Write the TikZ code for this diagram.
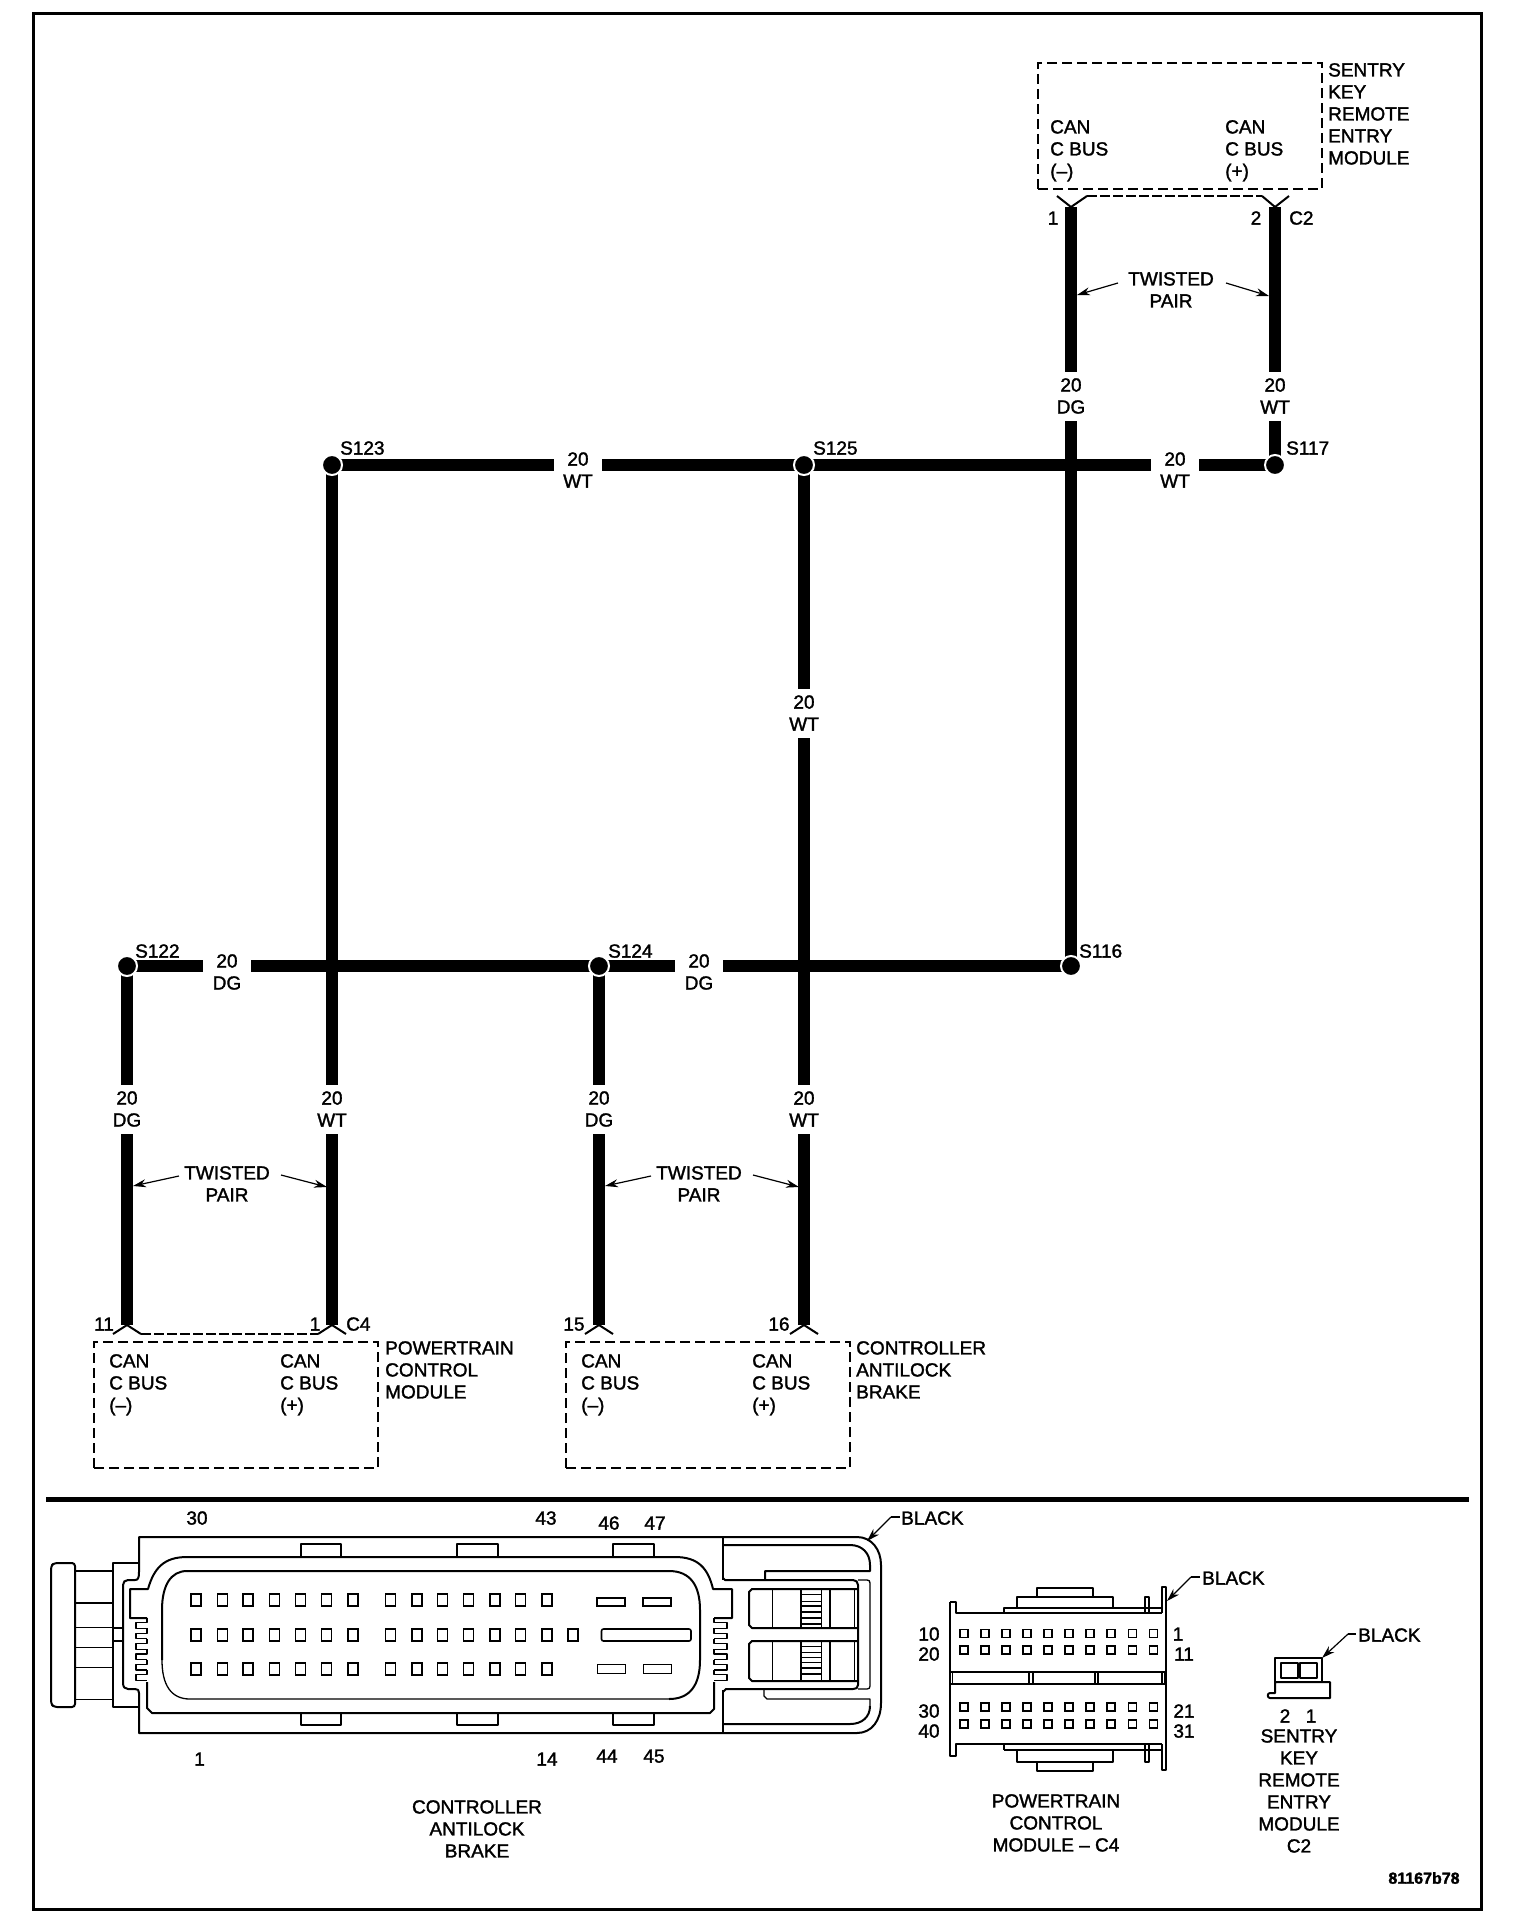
\documentclass[tikz,border=0pt]{standalone}
\usepackage{fontspec}
\setmainfont[FakeBold=1.6]{Liberation Sans}
\usetikzlibrary{arrows.meta,backgrounds}
\tikzset{
  x=1pt,y=-1pt,
  wire/.style={line width=12pt,line cap=butt},
  splice/.style={circle,fill=black,draw=white,line width=2pt,minimum size=20pt,inner sep=0pt},
  txtbase/.style={inner sep=0pt,font=\fontsize{19}{22}\selectfont,execute at begin node=\strut},
  tl/.style={txtbase,anchor=north west,align=left,yshift=8pt},
  tc/.style={txtbase,anchor=north,align=center,yshift=8pt},
  wbase/.style={inner sep=0pt,font=\fontsize{19}{22}\selectfont,fill=white,align=center,minimum height=49pt,execute at begin node=\rule{0pt}{19.6pt}},
  wlabel/.style={wbase,minimum width=48pt},
  vlabel/.style={wbase,minimum width=40pt},
  modbox/.style={draw,line width=2.4pt,dash pattern=on 10pt off 5pt,minimum width=284pt,minimum height=126pt,inner sep=0pt},
  vee/.style={line width=2pt},
  pointer/.style={line width=1.2pt,-{Stealth[length=13pt,width=8pt]}},
  frameline/.style={line width=3pt},
  cbig/.style={line width=2pt,line join=round},
  cmid/.style={line width=1.3pt,line join=round},
  cthin/.style={line width=0.9pt},
  pinbox/.style={line width=1.6pt},
}
\begin{document}
\begin{tikzpicture}
\useasboundingbox (0,0) rectangle (1536,1926);
% splices
\node[splice] (S123) at (332,465) {};
\node[splice] (S125) at (804,465) {};
\node[splice] (S117) at (1275,465) {};
\node[splice] (S122) at (127,966) {};
\node[splice] (S124) at (599,966) {};
\node[splice] (S116) at (1071,966) {};
% connector points
\coordinate (skL) at (1071,207); \coordinate (skR) at (1275,207);
\coordinate (pcL) at (127,1325); \coordinate (pcR) at (332,1325);
\coordinate (abL) at (599,1325); \coordinate (abR) at (804,1325);
\begin{scope}[on background layer]
  \fill[white] (0,0) rectangle (1536,1926);
  \draw[wire] (skL) -- (S116.center);
  \draw[wire] (skR) -- (S117.center);
  \draw[wire] (S123.center) -- (S117.center);
  \draw[wire] (S122.center) -- (S116.center);
  \draw[wire] (S123.center) -- (pcR);
  \draw[wire] (S125.center) -- (abR);
  \draw[wire] (S122.center) -- (pcL);
  \draw[wire] (S124.center) -- (abL);
\end{scope}
% wire labels
\node[vlabel] (wa) at (1071,396) {20\\DG};
\node[vlabel] (wb) at (1275,396) {20\\WT};
\node[wlabel] (wc) at (578,470) {20\\WT};
\node[wlabel] (wd) at (1175,470) {20\\WT};
\node[vlabel] (we) at (804,713) {20\\WT};
\node[wlabel] (wf) at (227,972) {20\\DG};
\node[wlabel] (wg) at (699,972) {20\\DG};
\node[vlabel] (wh) at (127,1109) {20\\DG};
\node[vlabel] (wi) at (332,1109) {20\\WT};
\node[vlabel] (wj) at (599,1109) {20\\DG};
\node[vlabel] (wk) at (804,1109) {20\\WT};
% splice labels
\node[tl] (l123) at (340,447) {S123};
\node[tl] (l125) at (813,447) {S125};
\node[tl] (l117) at (1286,447) {S117};
\node[tl] (l122) at (135,950) {S122};
\node[tl] (l124) at (608,950) {S124};
\node[tl] (l116) at (1079,950) {S116};
% modules
\node[modbox] (skm) at (1180,126) {};
\node[modbox] (pcm) at (236,1405) {};
\node[modbox] (abm) at (708,1405) {};
\node[tl] (t1) at (1050,128) {CAN\\C BUS\\(–)};
\node[tl] (t2) at (1225,128) {CAN\\C BUS\\(+)};
\node[tl] (t3) at (1328,71) {SENTRY\\KEY\\REMOTE\\ENTRY\\MODULE};
\node[tl] (t4) at (109,1362) {CAN\\C BUS\\(–)};
\node[tl] (t5) at (280,1362) {CAN\\C BUS\\(+)};
\node[tl] (t6) at (385,1349) {POWERTRAIN\\CONTROL\\MODULE};
\node[tl] (t7) at (581,1362) {CAN\\C BUS\\(–)};
\node[tl] (t8) at (752,1362) {CAN\\C BUS\\(+)};
\node[tl] (t9) at (856,1349) {CONTROLLER\\ANTILOCK\\BRAKE};
% connector vees
\draw[vee] (1057,196) -- (skL) -- (1087,196);
\draw[vee] (1262,196) -- (skR) -- (1289,196);
\draw[vee,dash pattern=on 10pt off 3pt] (1087,196) -- (1262,196);
\draw[vee] (113,1334) -- (pcL) -- (141,1334);
\draw[vee] (318,1334) -- (pcR) -- (346,1334);
\draw[vee,dash pattern=on 10pt off 3pt] (141,1334) -- (318,1334);
\draw[vee] (585,1334) -- (abL) -- (613,1334);
\draw[vee] (790,1334) -- (abR) -- (818,1334);
% pin labels
\node[tc] (p1) at (1053,217) {1};
\node[tc] (p2) at (1256,217) {2};
\node[tl] (p3) at (1289,217) {C2};
\node[tc] (p4) at (104,1323) {11};
\node[tc] (p5) at (315,1323) {1};
\node[tl] (p6) at (346,1323) {C4};
\node[tc] (p7) at (574,1323) {15};
\node[tc] (p8) at (779,1323) {16};
% twisted pairs
\node[tc] (tw1) at (1171,280) {TWISTED\\PAIR};
\draw[pointer] (1118,283) -- (1077,295);
\draw[pointer] (1226,283) -- (1269,296);
\node[tc] (tw2) at (227,1174) {TWISTED\\PAIR};
\draw[pointer] (179,1176) -- (133,1186);
\draw[pointer] (281,1175) -- (327,1187);
\node[tc] (tw3) at (699,1174) {TWISTED\\PAIR};
\draw[pointer] (651,1176) -- (605,1186);
\draw[pointer] (753,1175) -- (799,1187);
% frame and separator
\draw[frameline] (33,14) rectangle (1481,1909);
\draw[line width=5pt] (46,1499) -- (1469,1499);
% ---------- Controller antilock brake connector
\begin{scope}
% outer shell
\draw[cbig] (139,1537) -- (857,1537) .. controls (872,1537) and (881,1550) .. (881,1565) -- (881,1703) .. controls (881,1720) and (872,1733) .. (857,1733) -- (139,1733) -- (139,1693) .. controls (139,1690) and (138,1689) .. (135,1689) -- (128,1689) .. controls (125,1689) and (123,1687) .. (123,1683) -- (123,1585) .. controls (123,1582) and (125,1580) .. (128,1580) -- (135,1580) .. controls (138,1580) and (139,1578) .. (139,1572) -- cycle;
\draw[cmid] (723,1537) -- (723,1580);
\draw[cmid] (723,1690) -- (723,1733);
\foreach \xa/\xb in {301/341,457/498,613/654}{
  \draw[cbig] (\xa,1557) -- (\xa,1544) -- (\xb,1544) -- (\xb,1557);
  \draw[cbig] (\xa,1713) -- (\xa,1725) -- (\xb,1725) -- (\xb,1713);
}
% ring and combs
\draw[cbig] (147,1682) -- (147,1708) -- (152,1713) -- (710,1713) -- (714,1709) -- (714,1682);
\draw[cbig] (714,1618) -- (732,1618) -- (732,1589) -- (713,1589) .. controls (708,1568) and (698,1557) .. (675,1557) -- (187,1557) .. controls (164,1557) and (154,1568) .. (148,1589) -- (130,1589) -- (130,1618) -- (147,1618);
\draw[cbig] (187,1571) -- (669,1571) .. controls (690,1571) and (700,1585) .. (700,1610) -- (700,1660) .. controls (700,1685) and (690,1699) .. (669,1699);
\draw[cmid] (669,1699) -- (190,1699) .. controls (171,1699) and (162,1685) .. (162,1660);
\draw[cbig] (162,1660) -- (162,1610) .. controls (162,1585) and (171,1571) .. (187,1571);
\foreach \i in {0,...,5}{
  \pgfmathsetmacro{\ya}{1618+10.4*\i}
  \pgfmathsetmacro{\yb}{\ya+4.8}
  \pgfmathsetmacro{\yc}{\ya+10.4}
  \draw[cmid] (147,\ya) -- (147,\yb) -- (136,\yb) -- (136,\yc) -- (147,\yc);
  \draw[cmid] (714,\ya) -- (714,\yb) -- (727,\yb) -- (727,\yc) -- (714,\yc);
}
% pins
\foreach \r in {1600,1635,1669}{
  \foreach \c in {196.2,222.4,248.2,274.6,300.5,326.3,352.7,390.3,416.7,442.5,468.3,494.7,520.5,547}{
    \draw[pinbox] (\c-5,\r-6) rectangle (\c+5,\r+6);
  }
}
\draw[pinbox] (572.8-5,1629) rectangle (572.8+5,1641);
\draw[pinbox] (597,1598) rectangle (625,1606);
\draw[pinbox] (643,1598) rectangle (671,1606);
\draw[cthin] (597,1664) rectangle (625,1673);
\draw[cthin] (643,1664) rectangle (671,1673);
\draw[pinbox,rounded corners=2pt] (601.5,1629) rectangle (691,1641);
% left cap
\draw[cbig,rounded corners=3pt] (75,1563) -- (54,1563) -- (51,1566) -- (51,1704) -- (54,1707) -- (75,1707) -- cycle;
\draw[cbig] (75,1571) -- (113,1571);
\draw[cbig] (75,1603) -- (113,1603);
\draw[cthin] (75,1627) -- (113,1627);
\draw[cthin] (75,1647) -- (113,1647);
\draw[cthin] (75,1667) -- (113,1667);
\draw[cthin] (75,1699) -- (113,1699);
\draw[cbig] (139,1563) -- (113,1563) -- (113,1707) -- (139,1707);
\draw[cmid] (113,1628) -- (123,1628);
\draw[cmid] (113,1641) -- (123,1641);
% right latch
\draw[cbig] (724,1545) -- (850,1545) .. controls (862,1545) and (870,1553) .. (870,1565) -- (870,1571) -- (765,1571) -- (765,1580);
\draw[cbig] (723,1578) -- (725,1580) -- (853,1580) .. controls (856,1580) and (858,1582) .. (858,1585) -- (858,1685) .. controls (858,1688) and (856,1689) .. (853,1689) -- (726,1689) -- (723,1692);
\draw[cmid] (858,1580) -- (867,1580) .. controls (869,1580) and (870,1581) .. (870,1583) -- (870,1686) .. controls (870,1688) and (869,1689) .. (867,1689) -- (858,1689);
\draw[cmid] (764,1690) -- (764,1696) -- (767,1699) -- (870,1699) -- (870,1706);
\draw[cbig] (870,1706) .. controls (870,1717) and (862,1724) .. (850,1724) -- (724,1724);
\foreach \ya/\yb in {1589/1628,1641/1681}{
  \draw[cbig] (858,\ya) -- (752,\ya) -- (749,\ya+3) -- (749,\yb-3) -- (752,\yb) -- (858,\yb);
  \draw[cthin] (772,\ya) -- (772,\yb);
  \draw[cbig] (801,\ya) -- (801,\yb);
  \draw[cthin] (821,\ya) -- (821,\yb);
  \draw[cbig] (830,\ya) -- (830,\yb);
  \draw[cthin] (854,\ya) -- (854,\yb);
}
\foreach \h in {1594,1601,1646,1652,1657,1662}{ \draw[cthin] (801,\h) -- (821,\h); }
\foreach \h in {1606,1612,1618,1624,1668,1674}{ \draw[cbig] (801,\h) -- (821,\h); }
\end{scope}
\node[tc] (n30) at (197,1517) {30};
\node[tc] (n43) at (546,1517) {43};
\node[tc] (n46) at (609,1522) {46};
\node[tc] (n47) at (655,1522) {47};
\node[tc] (n1) at (199.5,1758) {1};
\node[tc] (n14) at (547,1758) {14};
\node[tc] (n44) at (607,1755) {44};
\node[tc] (n45) at (654,1755) {45};
\node[tc] (ttl1) at (477,1808) {CONTROLLER\\ANTILOCK\\BRAKE};
\node[tl] (bk1) at (901,1517) {BLACK};
\coordinate (bk1k) at (891,1517);
\coordinate (bk1t) at (867,1541);
\draw[pointer] (bk1k) -- (bk1t);
\draw[line width=1.2pt] (bk1k) -- (900,1517);
% ---------- PCM connector
\begin{scope}
\draw[cbig] (950,1602) -- (956,1602) -- (956,1613) -- (1162,1613);
\draw[cbig] (950,1602) -- (950,1756) -- (956,1756) -- (956,1744) -- (1162,1744);
\draw[cbig] (1162,1613) -- (1162,1587) -- (1166,1587) -- (1166,1770) -- (1162,1770) -- (1162,1744);
\draw[cmid] (1004,1613) -- (1004,1608) -- (1162,1608);
\draw[cmid] (1017,1608) -- (1017,1597) -- (1113,1597) -- (1113,1608);
\draw[cbig] (1037,1597) -- (1037,1587.5) -- (1093,1587.5) -- (1093,1597);
\draw[cmid] (1145,1613) -- (1145,1597) -- (1149,1597) -- (1149,1613);
\draw[cmid] (1004,1744) -- (1004,1750);
\draw[cbig] (1004,1750) -- (1162,1750);
\draw[cmid] (1017,1750) -- (1017,1762) -- (1113,1762) -- (1113,1750);
\draw[cbig] (1037,1762) -- (1037,1770.5) -- (1093,1770.5) -- (1093,1762);
\draw[cmid] (1145,1744) -- (1145,1762) -- (1149,1762) -- (1149,1744);
\draw[cbig] (950,1672) -- (1166,1672);
\draw[cmid] (950,1684) -- (1166,1684);
\foreach \v in {952.5,1029,1033,1095,1098,1162,1165}{
  \draw[cmid] (\v,1672) -- (\v,1684);
}
\foreach \r in {1633.5,1650,1707,1724}{
  \foreach \c in {963.7,984.8,1005.9,1027,1048,1069,1090,1111,1132.5,1153.5}{
    \draw[pinbox] (\c-4,\r-4) rectangle (\c+4,\r+4);
  }
}
\end{scope}
\node[tc] (m10) at (929,1633) {10};
\node[tc] (m20) at (929,1653) {20};
\node[tc] (m30) at (929,1710) {30};
\node[tc] (m40) at (929,1730) {40};
\node[tc] (m1) at (1178,1633) {1};
\node[tc] (m11) at (1184,1653) {11};
\node[tc] (m21) at (1184,1710) {21};
\node[tc] (m31) at (1184,1730) {31};
\node[tl] (bk2) at (1202,1577) {BLACK};
\coordinate (bk2k) at (1191,1577);
\coordinate (bk2t) at (1167,1601);
\draw[pointer] (bk2k) -- (bk2t);
\draw[line width=1.2pt] (bk2k) -- (1200,1577);
\node[tc] (ttl2) at (1056,1802) {POWERTRAIN\\CONTROL\\MODULE – C4};
% ---------- Sentry key remote entry module connector
\begin{scope}
\draw[cbig] (1275,1682) -- (1275,1658) -- (1322,1658) -- (1322,1682);
\draw[cbig] (1275,1682) -- (1330,1682) -- (1330,1698) -- (1270,1698) .. controls (1267,1698) and (1267,1693) .. (1270,1693) -- (1275,1693) -- (1275,1682);
\draw[cbig] (1281,1663) rectangle (1297.5,1678);
\draw[cbig] (1300,1663) rectangle (1317,1678);
\end{scope}
\node[tc] (s2) at (1285,1715) {2};
\node[tc] (s1) at (1311,1715) {1};
\node[tl] (bk3) at (1358,1634) {BLACK};
\coordinate (bk3k) at (1348,1634);
\coordinate (bk3t) at (1322,1658);
\draw[pointer] (bk3k) -- (bk3t);
\draw[line width=1.2pt] (bk3k) -- (1356,1634);
\node[tc] (ttl3) at (1299,1737) {SENTRY\\KEY\\REMOTE\\ENTRY\\MODULE\\C2};
\node[inner sep=0pt,font=\fontsize{16}{18}\bfseries\selectfont] (code) at (1424,1878) {81167b78};
\end{tikzpicture}
\end{document}
